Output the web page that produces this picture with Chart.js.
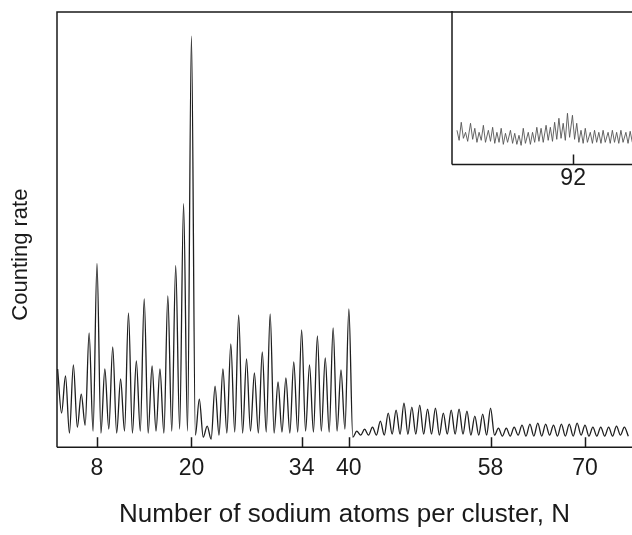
<!DOCTYPE html>
<html>
<head>
<meta charset="utf-8">
<script src="https://cdn.jsdelivr.net/npm/chart.js@4.4.1/dist/chart.umd.min.js"></script>
<style>
    body { margin: 0; background: #fff; }
    #wrap { position: relative; width: 632px; height: 535px; overflow: hidden; }
    #main { position: absolute; left: 0; top: 0; }
    #inset { position: absolute; left: 448px; top: 0px; }
</style>
</head>
<body>
<div id="wrap">
    <canvas id="main" width="632" height="535"></canvas>
    <canvas id="inset" width="200" height="196"></canvas>
</div>
<script>
// main spectrum: one peak per cluster size N, plus the minimum that follows it
const clusterSizes = [3, 4, 5, 6, 7, 8, 9, 10, 11, 12, 13, 14, 15, 16, 17, 18, 19, 20,
    21, 22, 23, 24, 25, 26, 27, 28, 29, 30, 31, 32, 33, 34, 35, 36, 37, 38, 39, 40,
    41, 42, 43, 44, 45, 46, 47, 48, 49, 50, 51, 52, 53, 54, 55, 56, 57, 58,
    59, 60, 61, 62, 63, 64, 65, 66, 67, 68, 69, 70, 71, 72, 73, 74, 75];
const peakCounts = [78, 71, 82, 53, 114, 183, 78, 100, 68, 134, 86, 148, 81, 78, 151, 181, 243, 410,
    48, 21, 61, 78, 103, 132, 88, 74, 95, 133, 65, 69, 85, 117, 82, 111, 89, 119, 77, 138,
    16, 18, 20, 26, 34, 37, 44, 40, 42, 38, 39, 34, 37, 38, 36, 31, 33, 39,
    19, 19, 20, 22, 23, 24, 23, 22, 23, 23, 24, 22, 20, 20, 20, 21, 20];
const valleyCounts = [34, 14, 20, 22, 16, 14, 18, 14, 16, 14, 16, 14, 16, 14, 16, 18, 16, 12,
    10, 8, 12, 14, 15, 14, 16, 14, 15, 14, 15, 14, 15, 16, 15, 16, 15, 16, 18, 10,
    12, 12, 12, 12, 13, 13, 13, 13, 13, 13, 12, 13, 13, 13, 12, 12, 12, 12,
    11, 11, 12, 11, 11, 11, 12, 11, 11, 11, 12, 11, 11, 11, 11, 12, 11];
const tickSizes = [8, 20, 34, 40, 58, 70];

// inset: N = 75 .. 100
const insetSizes = [75.7, 76.3, 76.9, 77.6, 78.2, 78.8, 79.4, 80.1, 80.7, 81.3,
    81.9, 82.5, 83.2, 83.8, 84.4, 85.0, 85.7, 86.3, 86.9, 87.5,
    88.2, 88.8, 89.4, 90.0, 90.6, 91.2, 91.9, 92.5, 93.1, 93.7,
    94.4, 95.0, 95.6, 96.2, 96.9, 97.5, 98.1, 98.7, 99.4, 100.0];
const insetPeaks = [34, 42, 32, 41, 36, 32, 39, 34, 37, 32, 36, 31, 34, 31, 29, 36, 32, 32, 37, 36,
    39, 37, 42, 46, 41, 51, 49, 41, 34, 36, 32, 34, 32, 34, 32, 34, 32, 34, 32, 33];
const insetValleys = [24, 26, 23, 25, 22, 24, 22, 23, 21, 22, 20, 22, 21, 20, 19, 21, 20, 22, 23, 22,
    24, 23, 25, 26, 24, 27, 25, 22, 21, 22, 21, 22, 21, 22, 21, 22, 21, 22, 21, 22];
const insetTicks = [92];

const FONT = "'Liberation Sans', Arial, Helvetica, sans-serif";
const INK = '#1a1a1a';

function trace(sizes, peaks, valleys, gap) {
    const pts = [];
    sizes.forEach((n, i) => {
        pts.push({ x: n, y: peaks[i] });
        pts.push({ x: n + gap, y: valleys[i] });
    });
    return pts;
}

// frame of the plot and the little tick marks that point up into it
function framePlugin(ticks, sides) {
    return {
        id: 'frame',
        afterDraw(chart) {
            const { ctx, chartArea: a } = chart;
            const x = chart.scales.x;
            ctx.save();
            ctx.strokeStyle = INK;
            ctx.lineWidth = 1.5;
            ctx.beginPath();
            ctx.moveTo(a.left, a.bottom);
            ctx.lineTo(a.right, a.bottom);
            ctx.moveTo(a.left, a.bottom);
            ctx.lineTo(a.left, a.top);
            if (sides.top) {
                ctx.lineTo(a.right, a.top);
            }
            ticks.forEach(v => {
                const px = Math.round(x.getPixelForValue(v)) + 0.5;
                ctx.moveTo(px, a.bottom);
                ctx.lineTo(px, a.bottom - 10);
            });
            ctx.stroke();
            if (sides.yTitle) {
                // y title sits a little below the middle of the frame
                ctx.translate(21, (a.top + a.bottom) / 2 + 25);
                ctx.rotate(-Math.PI / 2);
                ctx.fillStyle = INK;
                ctx.font = '22px ' + FONT;
                ctx.textAlign = 'center';
                ctx.textBaseline = 'middle';
                ctx.fillText(sides.yTitle, 0, 0);
            }
            ctx.restore();
        }
    };
}

new Chart(document.getElementById('main'), {
    type: 'line',
    data: {
        datasets: [{
            data: trace(clusterSizes, peakCounts, valleyCounts, 0.5),
            borderColor: '#1e1e1e',
            borderWidth: 1.3,
            pointRadius: 0,
            tension: 0.2,
            cubicInterpolationMode: 'monotone'
        }]
    },
    options: {
        responsive: false,
        animation: false,
        layout: { padding: { left: 57, top: 12, right: 0, bottom: 5 } },
        scales: {
            x: {
                type: 'linear',
                min: 2.92,
                max: 75.97,
                afterBuildTicks: s => { s.ticks = tickSizes.map(v => ({ value: v })); },
                grid: { display: false, drawTicks: false },
                border: { display: false },
                ticks: { color: INK, font: { family: FONT, size: 23 }, padding: 8, maxRotation: 0 },
                title: {
                    display: true,
                    text: 'Number of sodium atoms per cluster, N',
                    color: INK,
                    font: { family: FONT, size: 26 },
                    padding: { top: 8, bottom: 0 }
                }
            },
            y: {
                display: false,
                min: 0,
                max: 434
            }
        },
        plugins: {
            legend: { display: false },
            tooltip: { enabled: false }
        }
    },
    plugins: [framePlugin(tickSizes, { top: true, yTitle: 'Counting rate' })]
});

new Chart(document.getElementById('inset'), {
    type: 'line',
    data: {
        datasets: [{
            data: trace(insetSizes, insetPeaks, insetValleys, 0.3),
            borderColor: '#555555',
            borderWidth: 0.9,
            pointRadius: 0,
            tension: 0
        }]
    },
    options: {
        responsive: false,
        animation: false,
        layout: { padding: { left: 4, top: 11, right: 0, bottom: 4 } },
        scales: {
            x: {
                type: 'linear',
                min: 75,
                max: 102.5,
                afterBuildTicks: s => { s.ticks = insetTicks.map(v => ({ value: v })); },
                grid: { display: false, drawTicks: false },
                border: { display: false },
                ticks: { color: INK, font: { family: FONT, size: 23 }, padding: 0, maxRotation: 0 }
            },
            y: {
                display: false,
                min: 0,
                max: 153
            }
        },
        plugins: {
            legend: { display: false },
            tooltip: { enabled: false }
        }
    },
    plugins: [framePlugin(insetTicks, { top: false })]
});
</script>
</body>
</html>
